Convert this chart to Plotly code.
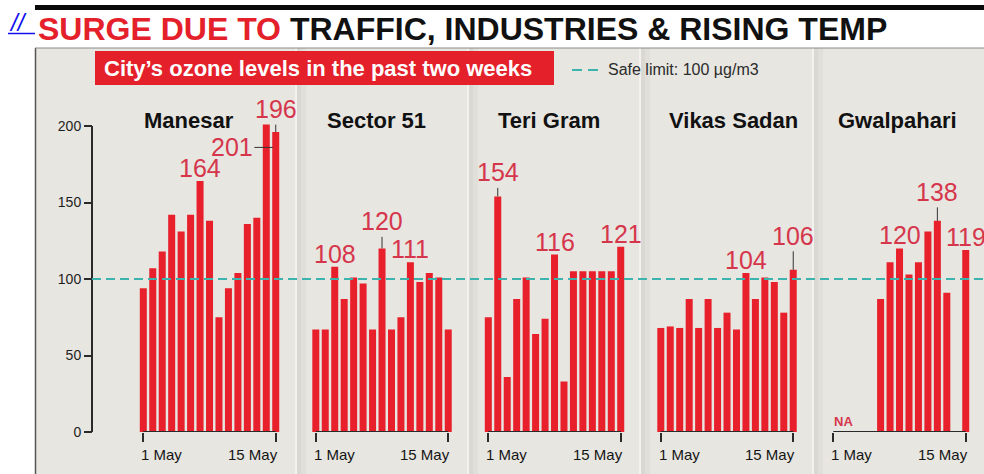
import plotly.graph_objects as go

# ---------------- data ----------------
days = list(range(1, 16))
stations = ["Manesar", "Sector 51", "Teri Gram", "Vikas Sadan", "Gwalpahari"]
manesar = [94, 107, 118, 142, 131, 142, 164, 138, 75, 94, 104, 136, 140, 201, 196]
sector_51 = [67, 67, 108, 87, 101, 97, 67, 120, 67, 75, 111, 98, 104, 101, 67]
teri_gram = [75, 154, 36, 87, 101, 64, 74, 116, 33, 105, 105, 105, 105, 105, 121]
vikas_sadan = [68, 69, 68, 87, 68, 87, 68, 78, 67, 104, 87, 101, 98, 78, 106]
gwalpahari = [None, None, None, None, None, 87, 111, 120, 103, 111, 131, 138, 91, None, 119]
series = [manesar, sector_51, teri_gram, vikas_sadan, gwalpahari]
safe_limit = 100
y_ticks = [0, 50, 100, 150, 200]
x_tick_days = [1, 15]
x_tick_text = ["1 May", "15 May"]
# labelled days per station: (day, leader style)
labelled = [
    [(7, None), (14, "side"), (15, "up")],
    [(3, None), (8, "up"), (11, None)],
    [(2, "up"), (8, None), (15, None)],
    [(10, None), (15, "up")],
    [(8, None), (12, "up"), (15, None)],
]
na_station = 4
title_red = "SURGE DUE TO"
title_black = "TRAFFIC, INDUSTRIES & RISING TEMP"
subtitle = "City\u2019s ozone levels in the past two weeks"
legend_text = "Safe limit: 100 \u00b5g/m3"

# ---------------- layout helpers ----------------
W, H = 984, 474
def px(x):
    return x / W
def py(y):
    return 1 - y / H

FONT = "Liberation Sans, Arial, sans-serif"
RED = "#e4202b"
LABEL_RED = "#d6364b"
TEAL = "#3cb4ad"
DARK = "#2a2a2a"
BOX_BG = "#e7e6e1"

day1_px = [143.3, 315.8, 488.3, 660.8, 833.3]
step_px = 9.46
title_left_px = [142, 325, 496, 667, 836]
separators_px = [295, 467, 639, 812]
y_zero_px, px_per_unit, y_max = 432, 1.53, 230
leader_up = {(0, 15): -23, (1, 8): -27, (2, 2): -24, (3, 15): -34, (4, 12): -29}

fig = go.Figure()
layout = dict(
    width=W, height=H, autosize=False,
    margin=dict(l=0, r=0, t=0, b=0, pad=0, autoexpand=False),
    paper_bgcolor="white", plot_bgcolor="rgba(0,0,0,0)",
    showlegend=False, bargap=0.26, font=dict(family=FONT),
)

y_dom = [py(y_zero_px), py(y_zero_px - y_max * px_per_unit)]
layout["yaxis"] = dict(
    domain=y_dom, range=[0, y_max], anchor="free", position=px(92), automargin=False,
    tickvals=y_ticks, ticks="outside", ticklen=8, tickwidth=2, tickcolor=DARK,
    tickfont=dict(size=14, color="#1e1e1e", family=FONT),
    showgrid=False, zeroline=False, showline=False, fixedrange=True,
)

shapes = []
annotations = []

# background boxes
shapes.append(dict(type="rect", xref="paper", yref="paper", x0=px(35), x1=1, y0=0, y1=py(48),
                   fillcolor=BOX_BG, line=dict(width=0), layer="below"))
for sx in separators_px:
    shapes.append(dict(type="rect", xref="paper", yref="paper", x0=px(sx), x1=px(sx + 2), y0=0, y1=py(48),
                       fillcolor="#f3f2ee", line=dict(width=0), layer="below"))
    shapes.append(dict(type="rect", xref="paper", yref="paper", x0=px(sx + 2), x1=px(sx + 6), y0=0, y1=py(48),
                       fillcolor="#d9d8d3", line=dict(width=0), layer="below"))
    shapes.append(dict(type="rect", xref="paper", yref="paper", x0=px(sx + 6), x1=px(sx + 11), y0=0, y1=py(48),
                       fillcolor="#e0dfda", line=dict(width=0), layer="below"))
shapes.append(dict(type="line", xref="paper", yref="paper", x0=px(35.5), x1=px(35.5), y0=0, y1=py(48),
                   line=dict(color="#555", width=1.5)))
shapes.append(dict(type="rect", xref="paper", yref="paper", x0=px(35), x1=1, y0=py(10), y1=py(5),
                   fillcolor="#0a0a0a", line=dict(width=0)))
shapes.append(dict(type="line", xref="paper", yref="paper", x0=px(35), x1=1, y0=py(48), y1=py(48),
                   line=dict(color="#8a8a8a", width=1)))

# title
annotations.append(dict(xref="paper", yref="paper", x=px(36), y=py(29), xanchor="left", yanchor="middle",
                        showarrow=False,
                        text=f"<b><span style='color:{RED}'>{title_red}</span> {title_black}</b>",
                        font=dict(size=32, color="#111", family=FONT)))
# broken link mark
annotations.append(dict(xref="paper", yref="paper", x=px(7), y=py(23), xanchor="left", yanchor="middle",
                        showarrow=False, text="<i>//</i>", font=dict(size=24, color="#1010ee", family=FONT)))
shapes.append(dict(type="line", xref="paper", yref="paper", x0=px(8), x1=px(35), y0=py(33.5), y1=py(33.5),
                   line=dict(color="#1010ee", width=1.5)))

# subtitle box
shapes.append(dict(type="rect", xref="paper", yref="paper", x0=px(95), x1=px(554), y0=py(85), y1=py(51),
                   fillcolor=RED, line=dict(width=0)))
annotations.append(dict(xref="paper", yref="paper", x=px(102), y=py(68), xanchor="left", yanchor="middle",
                        showarrow=False, text=f"<b>{subtitle}</b>",
                        font=dict(size=22, color="white", family=FONT)))
# legend
shapes.append(dict(type="line", xref="paper", yref="paper", x0=px(572), x1=px(599), y0=py(70), y1=py(70),
                   line=dict(color=TEAL, width=2, dash="10px,6px")))
annotations.append(dict(xref="paper", yref="paper", x=px(606), y=py(69), xanchor="left", yanchor="middle",
                        showarrow=False, text=legend_text, font=dict(size=16, color="#2b2b2b", family=FONT)))

# y axis line
shapes.append(dict(type="line", xref="paper", yref="y", x0=px(92), x1=px(92), y0=0, y1=y_ticks[-1],
                   line=dict(color=DARK, width=2)))

for i, (name, vals) in enumerate(zip(stations, series)):
    ax_id = "" if i == 0 else str(i + 1)
    xname = "x" + ax_id
    left = day1_px[i] - 0.5 * step_px
    right = day1_px[i] + 14.5 * step_px
    layout["xaxis" + ax_id] = dict(
        domain=[px(left), px(right)], range=[0.5, 15.5], anchor="y", automargin=False,
        tickvals=x_tick_days, ticks="outside", ticklen=9, tickwidth=2, tickcolor=DARK,
        showticklabels=False, showgrid=False, zeroline=False, showline=False, fixedrange=True,
    )
    fig.add_trace(go.Bar(x=days, y=vals, xaxis=xname, yaxis="y",
                         marker=dict(color="#e8202b", line=dict(width=0)), hoverinfo="x+y"))
    # axis base line between first and last tick
    shapes.append(dict(type="line", xref=xname, yref="y", x0=x_tick_days[0], x1=x_tick_days[-1], y0=0, y1=0,
                       line=dict(color=DARK, width=2)))
    # tick labels
    annotations.append(dict(xref=xname, yref="paper", x=x_tick_days[0], y=py(454), xanchor="left",
                            yanchor="middle", xshift=-4, showarrow=False, text=x_tick_text[0],
                            font=dict(size=15, color="#151515", family=FONT)))
    annotations.append(dict(xref=xname, yref="paper", x=x_tick_days[-1], y=py(454), xanchor="right",
                            yanchor="middle", xshift=4, showarrow=False, text=x_tick_text[-1],
                            font=dict(size=15, color="#151515", family=FONT)))
    # station name
    annotations.append(dict(xref="paper", yref="paper", x=px(title_left_px[i]), y=py(120), xanchor="left",
                            yanchor="middle", showarrow=False, text=f"<b>{name}</b>",
                            font=dict(size=22, color="#111", family=FONT)))
    # value labels
    for day, style in labelled[i]:
        v = vals[day - 1]
        base = dict(xref=xname, yref="y", text=str(v), font=dict(size=25, color=LABEL_RED, family=FONT))
        if style is None:
            annotations.append(dict(base, x=day, y=v, xanchor="center", yanchor="bottom", yshift=-3,
                                    showarrow=False))
        elif style == "up":
            annotations.append(dict(base, x=day, y=v, showarrow=True, arrowhead=0, arrowwidth=1,
                                    arrowcolor="#333", ax=0, ay=leader_up[(i, day)], standoff=0))
        else:
            annotations.append(dict(base, x=day + 0.7, y=v - 15, showarrow=True, arrowhead=0, arrowwidth=1,
                                    arrowcolor="#333", ax=-41, ay=0, standoff=0))
    if i == na_station:
        annotations.append(dict(xref=xname, yref="y", x=x_tick_days[0], y=0, xanchor="left", yanchor="bottom",
                                yshift=1, xshift=-1, showarrow=False, text="<b>NA</b>",
                                font=dict(size=13, color=LABEL_RED, family=FONT)))

# safe limit line
shapes.append(dict(type="line", xref="paper", yref="y", x0=px(92), x1=1, y0=safe_limit, y1=safe_limit,
                   line=dict(color=TEAL, width=2, dash="9px,5px"), layer="above"))

layout["shapes"] = shapes
layout["annotations"] = annotations
fig.update_layout(**layout)

post = (
    "document.body.style.margin='0';"
    "document.body.style.overflow='hidden';"
)
fig.write_html("out.html", config={"responsive": False, "displayModeBar": False},
               post_script=post)
